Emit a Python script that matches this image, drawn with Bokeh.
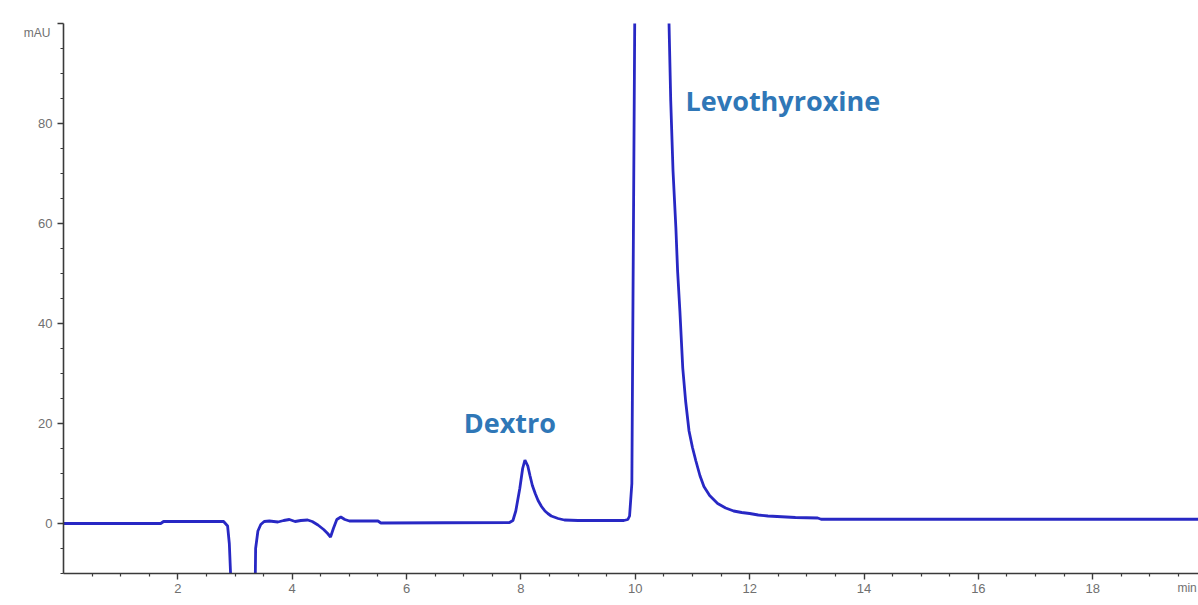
from bokeh.plotting import figure
from bokeh.models import Range1d, FixedTicker, ColumnDataSource, LinearAxis
from bokeh.core.properties import value
from bokeh.embed import file_html
from bokeh.resources import INLINE

# --- data ---
time_min = [0.0, 1.70, 1.75, 2.80, 2.87, 2.90, 2.94, 3.10, 3.35, 3.36, 3.40, 3.45, 3.51,
            3.60, 3.75, 3.85, 3.95, 4.05, 4.15, 4.27, 4.35, 4.45, 4.55, 4.62, 4.67, 4.72,
            4.78, 4.85, 4.92, 5.00, 5.50, 5.55, 7.80, 7.86, 7.91, 7.98, 8.03, 8.07, 8.12,
            8.16, 8.20, 8.25, 8.30, 8.36, 8.42, 8.47, 8.53, 8.65, 8.76, 9.00, 9.80, 9.87,
            9.90, 9.94, 9.96, 9.99, 10.20, 10.35, 10.50, 10.59, 10.62, 10.66, 10.71, 10.74,
            10.78, 10.83, 10.88, 10.94, 11.00, 11.06, 11.13, 11.20, 11.30, 11.44, 11.58,
            11.72, 11.86, 12.00, 12.15, 12.32, 12.80, 13.19, 13.25, 19.85]
signal_mau = [0.0, 0.0, 0.4, 0.4, -0.5, -4.0, -15.0, -40.0, -15.0, -5.0, -1.5, -0.2, 0.4,
              0.5, 0.3, 0.6, 0.8, 0.4, 0.6, 0.7, 0.4, -0.3, -1.2, -2.0, -2.7, -1.0,
              0.8, 1.3, 0.8, 0.5, 0.5, 0.1, 0.2, 0.6, 2.5, 7.0, 11.0, 12.7, 11.5,
              9.5, 7.6, 6.0, 4.6, 3.4, 2.5, 2.0, 1.5, 1.0, 0.7, 0.6, 0.6, 0.8,
              1.5, 8.0, 45.0, 100.0, 300.0, 420.0, 250.0, 100.0, 84.5, 70.5, 59.1, 50.5,
              42.5, 31.1, 24.5, 18.5, 15.2, 12.5, 9.6, 7.4, 5.6, 4.0, 3.1,
              2.5, 2.2, 2.0, 1.7, 1.5, 1.2, 1.1, 0.85, 0.85]

peak_names = ["Dextro", "Levothyroxine"]
peak_label_x = [7.00, 10.88]
peak_label_y = [20.3, 84.7]

x_major = [2, 4, 6, 8, 10, 12, 14, 16, 18]
x_minor = [v / 2 for v in range(1, 40) if v % 4 != 0]
y_major = [0, 20, 40, 60, 80, 100]
y_minor = [v for v in range(-10, 101, 5) if v % 20 != 0]
y_unit = "mAU"
x_unit = "min"
y_unit_pos = 98.2
x_unit_pos = 19.65

src = ColumnDataSource(dict(t=time_min, s=signal_mau))
lab = ColumnDataSource(dict(x=peak_label_x, y=peak_label_y, name=peak_names))

p = figure(width=1198, height=605, output_backend="svg", toolbar_location=None,
           x_range=Range1d(0, 19.85), y_range=Range1d(-10, 100),
           min_border_left=63, min_border_right=0, min_border_top=23, min_border_bottom=32)
p.outline_line_color = None
p.xgrid.visible = False
p.ygrid.visible = False
p.background_fill_color = "white"
p.border_fill_color = "white"

p.line("t", "s", source=src, line_color="#2828C4", line_width=2.8)

p.text("x", "y", text="name", source=lab, text_color="#2F77B7",
       text_font=value("Open Sans"), text_font_style="bold", text_font_size="27px",
       text_align="left", text_baseline="middle")

for ax in (p.xaxis[0], p.yaxis[0]):
    ax.axis_line_color = "#3a3a3a"
    ax.axis_line_width = 1.6
    ax.major_tick_line_color = "#3a3a3a"
    ax.minor_tick_line_color = "#3a3a3a"
    ax.major_tick_line_width = 1.4
    ax.minor_tick_line_width = 1.2
    ax.major_tick_in = 0
    ax.major_tick_out = 6
    ax.minor_tick_in = 0
    ax.minor_tick_out = 3
    ax.major_label_text_font = "Liberation Sans"
    ax.major_label_text_font_size = "13px"
    ax.major_label_text_color = "#707070"

p.xaxis[0].ticker = FixedTicker(ticks=x_major, minor_ticks=x_minor)
p.yaxis[0].ticker = FixedTicker(ticks=y_major, minor_ticks=y_minor)
p.yaxis[0].major_label_overrides = {100: ""}
p.xaxis[0].major_label_standoff = 4
p.yaxis[0].major_label_standoff = 5


def unit_axis(pos, text, standoff):
    a = LinearAxis(ticker=FixedTicker(ticks=[pos], minor_ticks=[]),
                   major_label_overrides={pos: text})
    a.axis_line_color = None
    a.major_tick_line_color = None
    a.minor_tick_line_color = None
    a.major_tick_in = 0
    a.major_tick_out = 0
    a.minor_tick_in = 0
    a.minor_tick_out = 0
    a.major_label_standoff = standoff
    a.major_label_text_font = "Liberation Sans"
    a.major_label_text_font_size = "12px"
    a.major_label_text_color = "#707070"
    return a


p.add_layout(unit_axis(y_unit_pos, y_unit, -15), "left")
p.add_layout(unit_axis(x_unit_pos, x_unit, -15), "below")

open("out.html", "w").write(file_html(p, INLINE))
